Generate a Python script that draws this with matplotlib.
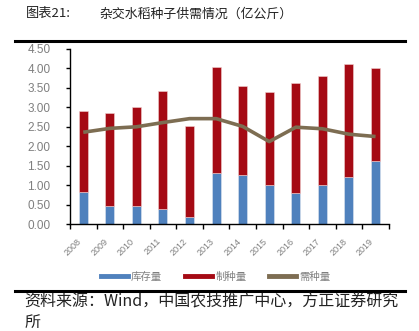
import matplotlib
matplotlib.use("Agg")
import matplotlib.pyplot as plt
import numpy as np
from matplotlib.lines import Line2D

plt.rcParams['font.family'] = ['Noto Sans CJK SC', 'DejaVu Sans']

years = ['2008', '2009', '2010', '2011', '2012', '2013', '2014', '2015', '2016', '2017', '2018', '2019']
inventory = [0.82, 0.47, 0.47, 0.39, 0.19, 1.31, 1.25, 1.00, 0.81, 1.00, 1.20, 1.61]
totals = [2.91, 2.85, 3.02, 3.41, 2.51, 4.03, 3.56, 3.39, 3.62, 3.81, 4.11, 4.00]
production = [t - i for t, i in zip(totals, inventory)]
demand = [2.36, 2.46, 2.50, 2.61, 2.71, 2.71, 2.51, 2.12, 2.49, 2.45, 2.31, 2.25]
series_names = ['库存量', '制种量', '需种量']

c_blue = '#4F81BD'
c_red = '#A50A14'
c_line = '#7D6D52'

fig = plt.figure(figsize=(4.19, 3.31), dpi=100)
ax = fig.add_axes([0.167, 0.323, 0.761, 0.529])

x = np.arange(len(years))
w = 0.34
ax.bar(x, inventory, w, color=c_blue, edgecolor='#dfe6f0', linewidth=0.4, zorder=2)
ax.bar(x, production, w, bottom=inventory, color=c_red, edgecolor='#f0d0d0', linewidth=0.4, zorder=2)
ax.plot(x, demand, color=c_line, linewidth=2.6, zorder=3, solid_capstyle='butt')

ax.set_xlim(-0.5, len(years) - 0.5)
ax.set_ylim(0, 4.5)
ax.set_yticks(np.arange(0, 4.51, 0.5))
ax.set_yticklabels(['%.2f' % v for v in np.arange(0, 4.51, 0.5)], color='#7f7f7f', fontsize=8.5,
                   family='Liberation Sans')
ax.set_xticks(x)
ax.set_xticklabels(years, rotation=45, color='#7f7f7f', fontsize=6.5, ha='right', va='top',
                   family='Liberation Sans')
ax.set_xticks(np.arange(-0.5, len(years), 1.0), minor=True)
ax.tick_params(axis='x', which='major', length=0, pad=9)
ax.tick_params(axis='x', which='minor', length=3.5, direction='out', color='black', width=1)
ax.tick_params(axis='y', length=3, direction='out', color='black', width=1, pad=11)
for s in ['top', 'right']:
    ax.spines[s].set_visible(False)
ax.spines['left'].set_linewidth(1)
ax.spines['bottom'].set_linewidth(1)

handles = [Line2D([], [], color=c_blue, lw=3.5),
           Line2D([], [], color=c_red, lw=3.5),
           Line2D([], [], color=c_line, lw=3.5)]
fig.legend(handles, series_names, loc='center', bbox_to_anchor=(0.515, 0.163), ncol=3,
           frameon=False, fontsize=7.5, handlelength=2.6, handletextpad=0.3, columnspacing=2.2,
           labelcolor='#7f7f7f')

fig.text(0.062, 0.958, '图表21:', fontsize=9.5, color='#222222', va='center', ha='left')
fig.text(0.238, 0.958, '杂交水稻种子供需情况（亿公斤）', fontsize=9.3, color='#222222',
         va='center', ha='left')
fig.add_artist(Line2D([0.036, 0.966], [0.876, 0.876], color='black', lw=2.2, transform=fig.transFigure))
fig.add_artist(Line2D([0.036, 0.966], [0.121, 0.121], color='black', lw=2.2, transform=fig.transFigure))
fig.text(0.058, 0.088, '资料来源：Wind，中国农技推广中心，方正证券研究', fontsize=11.5, style='italic',
         color='#222222', va='center', ha='left')
fig.text(0.058, 0.025, '所', fontsize=11.5, style='italic', color='#222222', va='center', ha='left')

fig.savefig('out.png', dpi=100)
